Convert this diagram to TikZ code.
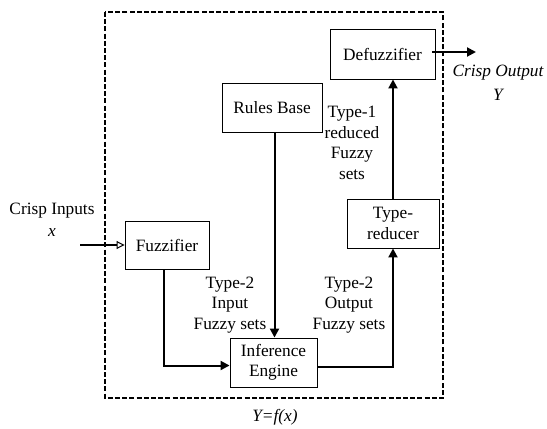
\documentclass[tikz,border=0pt]{standalone}
\usepackage{fontspec}
\setmainfont{Liberation Serif}
\usetikzlibrary{arrows.meta}
\begin{document}
\begin{tikzpicture}[x=1pt,y=-1pt,
  font=\fontsize{17.3}{20.5}\selectfont,
  blk/.style={draw,line width=0.9pt,inner sep=0pt,align=center},
  lbl/.style={align=center,inner sep=0pt},
  flow/.style={line width=2pt,-{Triangle[length=9pt,width=9pt]}},
  feed/.style={line width=2pt,-{Triangle[open,length=8pt,width=8pt,line width=1pt]}}]
\useasboundingbox (0,0) rectangle (547,429);
% system boundary
\draw[line width=1.8pt,dash pattern=on 5pt off 2.2pt] (105,12) rectangle (443,398);
% blocks
\node[blk,minimum width=84,minimum height=48] (fz) at (167,245) {Fuzzifier};
\node[blk,minimum width=100,minimum height=49] (rb) at (272,107.5) {Rules Base};
\node[blk,minimum width=87,minimum height=49] (ie) at (273.5,362.5) {Inference\\Engine};
\node[blk,minimum width=92,minimum height=49] (tr) at (393,223.5) {Type-\\reducer};
\node[blk,minimum width=105,minimum height=50] (df) at (382.5,54) {Defuzzifier};
% free ends
\coordinate (in) at (80,245);
\coordinate (out) at (476,52);
% connectors
\draw[feed] (in) -- (fz.west);
\draw[flow] ([xshift=-3pt]fz.south) |- ([yshift=-3pt]ie.west);
\draw[flow] ([xshift=2.5pt]rb.south) -- ([xshift=1pt]ie.north);
\draw[flow] ([yshift=-4.5pt]ie.east) -| (tr.south);
\draw[flow] (tr.north) -- (tr.north |- df.south);
\draw[flow] ([xshift=-3pt,yshift=2pt]df.east) -- (out);
% labels
\node[lbl] (lin) at (52,211) {Crisp Inputs};
\node[lbl] (lx) at (52,233) {\itshape x};
\node[lbl] (lout) at (498,73) {\itshape Crisp Output};
\node[lbl] (ly) at (498,95) {\itshape Y};
\node[lbl] (l2i) at (230,305) {Type-2\\Input\\Fuzzy sets};
\node[lbl] (l2o) at (349,305) {Type-2\\Output\\Fuzzy sets};
\node[lbl] (l1r) at (352,143) {Type-1\\reduced\\Fuzzy\\sets};
\node[lbl] (lf) at (275,417) {\itshape Y=f(x)};
\end{tikzpicture}
\end{document}
